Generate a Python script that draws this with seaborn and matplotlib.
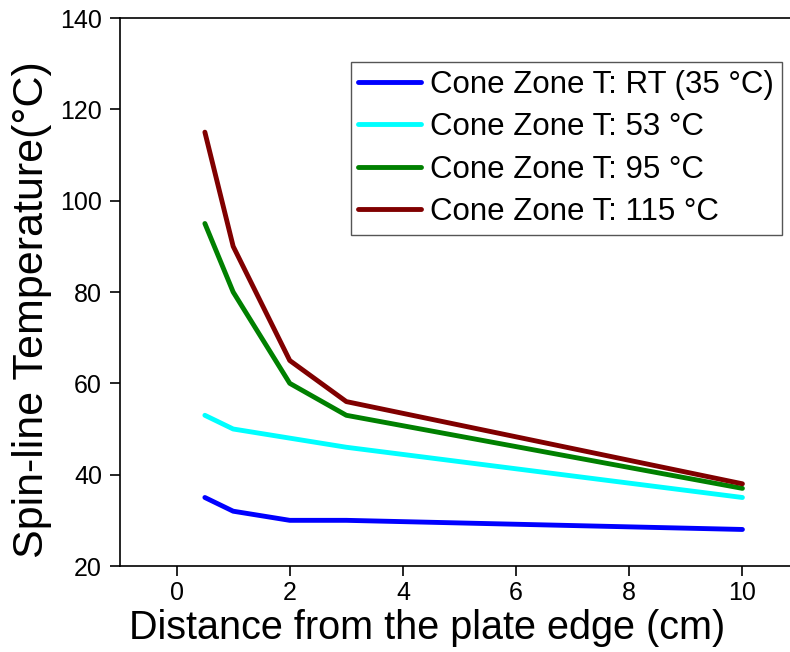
import matplotlib
matplotlib.use("Agg")
import matplotlib.pyplot as plt
import seaborn as sns
import pandas as pd

distance = [0.5, 1, 2, 3, 10]
series_labels = ["Cone Zone T: RT (35 °C)", "Cone Zone T: 53 °C",
                 "Cone Zone T: 95 °C", "Cone Zone T: 115 °C"]
temp_rt = [35, 32, 30, 30, 28]
temp_53 = [53, 50, 48, 46, 35]
temp_95 = [95, 80, 60, 53, 37]
temp_115 = [115, 90, 65, 56, 38]
colors = ["#0000FF", "#00FFFF", "#008000", "#800000"]
xticks = [0, 2, 4, 6, 8, 10]
yticks = [20, 40, 60, 80, 100, 120, 140]

rows = []
for lab, vals in zip(series_labels, [temp_rt, temp_53, temp_95, temp_115]):
    for x, y in zip(distance, vals):
        rows.append({"Distance": x, "Temp": y, "Series": lab})
df = pd.DataFrame(rows)

sns.set_style("ticks")
plt.rcParams["font.family"] = ["Liberation Sans", "DejaVu Sans"]
plt.rcParams["text.color"] = "black"
plt.rcParams["axes.labelcolor"] = "black"

fig = plt.figure(figsize=(7.9, 6.52), dpi=100)
ax = fig.add_axes([120/790, 1-566/652, 679/790, 548/652])

sns.lineplot(data=df, x="Distance", y="Temp", hue="Series",
             hue_order=series_labels, palette=colors, linewidth=3.5,
             ax=ax, legend=True)

ax.set_xlim(-1, 11)
ax.set_ylim(20, 140)
ax.set_xticks(xticks)
ax.set_yticks(yticks)
ax.tick_params(axis="both", direction="out", length=7, width=1.2,
               labelsize=18, color="black", labelcolor="black")
ax.tick_params(axis="x", pad=4)
ax.tick_params(axis="y", pad=6)
for s in ["left", "bottom", "top"]:
    ax.spines[s].set_color("black")
    ax.spines[s].set_linewidth(1.2)
ax.spines["right"].set_visible(False)

ax.set_xlabel("Distance from the plate edge (cm)", fontsize=28.5, color="black")
ax.set_ylabel("Spin-line Temperature(°C)", fontsize=31, color="black")
ax.xaxis.set_label_coords((427-120)/679, -(628-566)/548, transform=ax.transAxes)
ax.xaxis.label.set_va("center")
ax.yaxis.set_label_coords(-(120-32)/679, (566-310)/548, transform=ax.transAxes)
ax.yaxis.label.set_va("center")

handles, labels = ax.get_legend_handles_labels()
leg = ax.legend(handles, labels, loc="upper right",
                bbox_to_anchor=(782/790, 1-62/652), bbox_transform=fig.transFigure,
                borderaxespad=0, fontsize=22.5, frameon=True, fancybox=False,
                edgecolor="#555555", framealpha=1, handlelength=2.0,
                handletextpad=0.3, labelspacing=0.4, borderpad=0.25)
leg.get_frame().set_linewidth(1.0)
for line in leg.get_lines():
    line.set_linewidth(3.5)

fig.savefig("out.png", dpi=100)
